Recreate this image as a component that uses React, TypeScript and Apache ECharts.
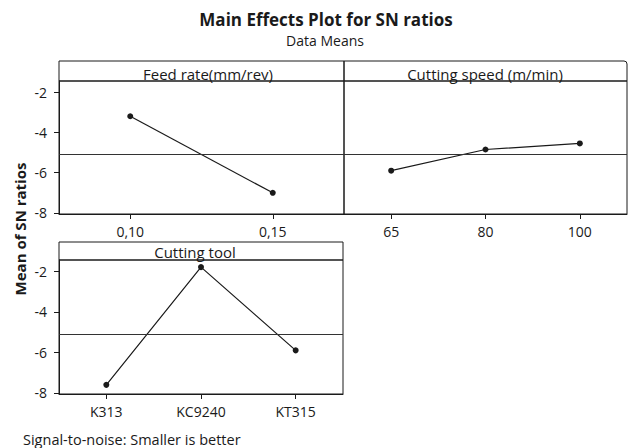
import React, { useEffect, useRef } from "react";
import * as echarts from "echarts";

const feedCats = ["0,10", "0,15"];
const feedVals = [-3.2, -7.0];
const speedCats = ["65", "80", "100"];
const speedVals = [-5.9, -4.85, -4.55];
const toolCats = ["K313", "KC9240", "KT315"];
const toolVals = [-7.6, -1.8, -5.9];
const grandMean = -5.1;
const yTicks = [-8, -6, -4, -2];
const panelTitles = ["Feed rate(mm/rev)", "Cutting speed (m/min)", "Cutting tool"];

const FONT = "'Open Sans', Lato, sans-serif";
const INK = "#1a1a1a";

export default function App() {
  const ref = useRef<HTMLDivElement>(null);
  useEffect(() => {
    const chart = echarts.init(ref.current!, null, { renderer: "svg" });
    const grids = [
      { left: 59, top: 81, width: 285, height: 133 },
      { left: 344, top: 81, width: 283, height: 133 },
      { left: 59, top: 260, width: 284, height: 134 },
    ];
    const cats = [feedCats, speedCats, toolCats];
    const vals = [feedVals, speedVals, toolVals];
    const option: any = {
      animation: false,
      backgroundColor: "#fff",
      textStyle: { fontFamily: FONT },
      grid: grids.map((g) => ({ ...g, show: true, borderColor: INK, borderWidth: 1, containLabel: false })),
      xAxis: cats.map((c, i) => ({
        type: "category",
        gridIndex: i,
        data: c,
        boundaryGap: true,
        axisLine: { show: true, lineStyle: { color: INK } },
        axisTick: { show: true, alignWithLabel: true, length: 5, lineStyle: { color: INK } },
        axisLabel: { color: INK, fontSize: 14, margin: 10, fontFamily: FONT },
        splitLine: { show: false },
      })),
      yAxis: cats.map((_, i) => ({
        type: "value",
        gridIndex: i,
        min: -8.05,
        max: -1.45,
        axisLine: { show: i !== 1, lineStyle: { color: INK } },
        axisTick: { show: i !== 1, length: 5, customValues: yTicks, lineStyle: { color: INK } },
        axisLabel: { show: i !== 1, color: INK, fontSize: 14, margin: 12, customValues: yTicks, fontFamily: FONT },
        splitLine: { show: false },
      })),
      series: vals.map((v, i) => ({
        type: "line",
        xAxisIndex: i,
        yAxisIndex: i,
        data: v,
        symbol: "circle",
        symbolSize: 6,
        itemStyle: { color: INK },
        lineStyle: { color: INK, width: 1.2 },
        markLine: {
          silent: true,
          symbol: "none",
          label: { show: false },
          lineStyle: { color: "#333", width: 1, type: "solid" },
          data: [{ yAxis: grandMean }],
        },
      })),
      graphic: [
        { type: "text", x: 326, y: 19, style: { text: "Main Effects Plot for SN ratios", font: `bold 17px ${FONT}`, fill: INK, textAlign: "center", textVerticalAlign: "middle" } },
        { type: "text", x: 325, y: 40, style: { text: "Data Means", font: `14px ${FONT}`, fill: INK, textAlign: "center", textVerticalAlign: "middle" } },
        { type: "rect", shape: { x: 59, y: 61, width: 285, height: 20 }, style: { fill: "none", stroke: INK, lineWidth: 1 } },
        { type: "rect", shape: { x: 344, y: 61, width: 283, height: 20, r: [0, 3, 0, 0] }, style: { fill: "none", stroke: INK, lineWidth: 1 } },
        { type: "rect", shape: { x: 59, y: 242, width: 284, height: 18 }, style: { fill: "none", stroke: INK, lineWidth: 1 } },
        { type: "text", x: 208, y: 74, style: { text: panelTitles[0], font: `15px ${FONT}`, fill: INK, textAlign: "center", textVerticalAlign: "middle" } },
        { type: "text", x: 485, y: 74, style: { text: panelTitles[1], font: `15px ${FONT}`, fill: INK, textAlign: "center", textVerticalAlign: "middle" } },
        { type: "text", x: 195, y: 252, style: { text: panelTitles[2], font: `15px ${FONT}`, fill: INK, textAlign: "center", textVerticalAlign: "middle" } },
        { type: "text", x: 20, y: 229, rotation: Math.PI / 2, style: { text: "Mean of SN ratios", font: `bold 15px ${FONT}`, fill: INK, textAlign: "center", textVerticalAlign: "middle" } },
        { type: "text", x: 23, y: 439, style: { text: "Signal-to-noise: Smaller is better", font: `14.5px ${FONT}`, fill: INK, textAlign: "left", textVerticalAlign: "middle" } },
      ],
    };
    chart.setOption(option);
    return () => chart.dispose();
  }, []);
  return <div ref={ref} style={{ position: "fixed", left: 0, top: 0, width: 629, height: 448 }} />;
}
